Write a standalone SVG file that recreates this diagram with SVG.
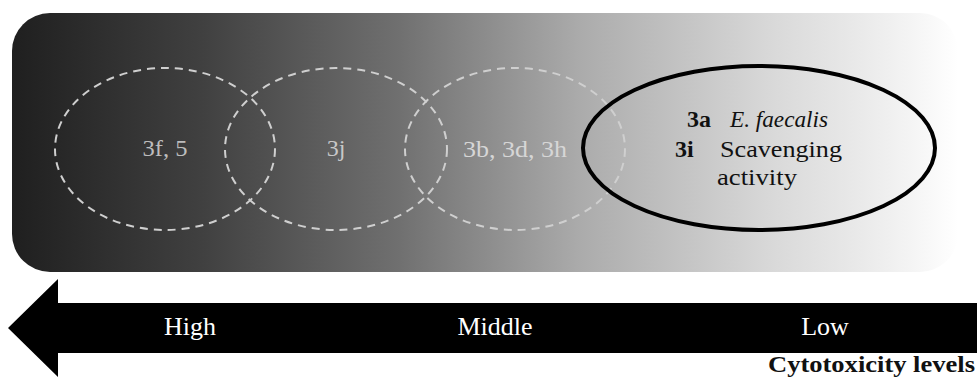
<svg xmlns="http://www.w3.org/2000/svg" width="977" height="383" viewBox="0 0 977 383">
<defs>
<linearGradient id="bg" gradientUnits="userSpaceOnUse" x1="12" y1="0" x2="958" y2="0">
<stop offset="0" stop-color="#1f1f1f"/>
<stop offset="0.2" stop-color="#404040"/>
<stop offset="0.41" stop-color="#707070"/>
<stop offset="0.6" stop-color="#ababab"/>
<stop offset="0.8" stop-color="#d8d8d8"/>
<stop offset="0.93" stop-color="#f0f0f0"/>
<stop offset="1" stop-color="#ffffff"/>
</linearGradient>
<style>
.dash{fill:none;stroke:#cfcfcf;stroke-width:2;stroke-dasharray:8 6}
.t{font-family:"Liberation Serif","Times New Roman",serif;font-size:24px}
.w{fill:#ffffff;font-family:"Liberation Serif","Times New Roman",serif;font-size:26px;text-anchor:middle}
</style>
</defs>
<rect id="band" x="12" y="13" width="946" height="259" rx="38" ry="38" fill="url(#bg)"/>
<g id="high-group">
<ellipse class="dash" cx="165" cy="149" rx="110" ry="81"/>
<text class="t" x="165" y="156" text-anchor="middle" fill="#bdbdbd" textLength="45" lengthAdjust="spacingAndGlyphs">3f, 5</text>
</g>
<g id="middle-group">
<ellipse class="dash" cx="336" cy="149" rx="111" ry="81"/>
<text class="t" x="336" y="156" text-anchor="middle" fill="#c8c8c8">3j</text>
</g>
<g id="middle2-group">
<ellipse class="dash" cx="515" cy="149" rx="110" ry="81"/>
<text class="t" x="515" y="157" text-anchor="middle" fill="#d6d6d6" textLength="104" lengthAdjust="spacingAndGlyphs">3b, 3d, 3h</text>
</g>
<g id="low-group">
<ellipse cx="759" cy="148" rx="176" ry="82" fill="none" stroke="#000" stroke-width="4"/>
<text class="t" x="687" y="127" fill="#111" font-weight="bold">3a</text>
<text class="t" x="730" y="127" fill="#111" font-style="italic" textLength="98" lengthAdjust="spacingAndGlyphs">E. faecalis</text>
<text class="t" x="675" y="157" fill="#111" font-weight="bold">3i</text>
<text class="t" x="720" y="157" fill="#111" textLength="122" lengthAdjust="spacingAndGlyphs">Scavenging</text>
<text class="t" x="717" y="185" fill="#111" textLength="80" lengthAdjust="spacingAndGlyphs">activity</text>
</g>
<g id="arrow">
<polygon points="8,328 58,279 58,303 977,303 977,353 58,353 58,377" fill="#000"/>
<text class="w" x="190" y="335">High</text>
<text class="w" x="495" y="335">Middle</text>
<text class="w" x="825" y="335">Low</text>
</g>
<text x="975" y="372" text-anchor="end" font-family="Liberation Serif, Times New Roman, serif" font-size="24" font-weight="bold" fill="#111" textLength="207" lengthAdjust="spacingAndGlyphs">Cytotoxicity levels</text>
</svg>
